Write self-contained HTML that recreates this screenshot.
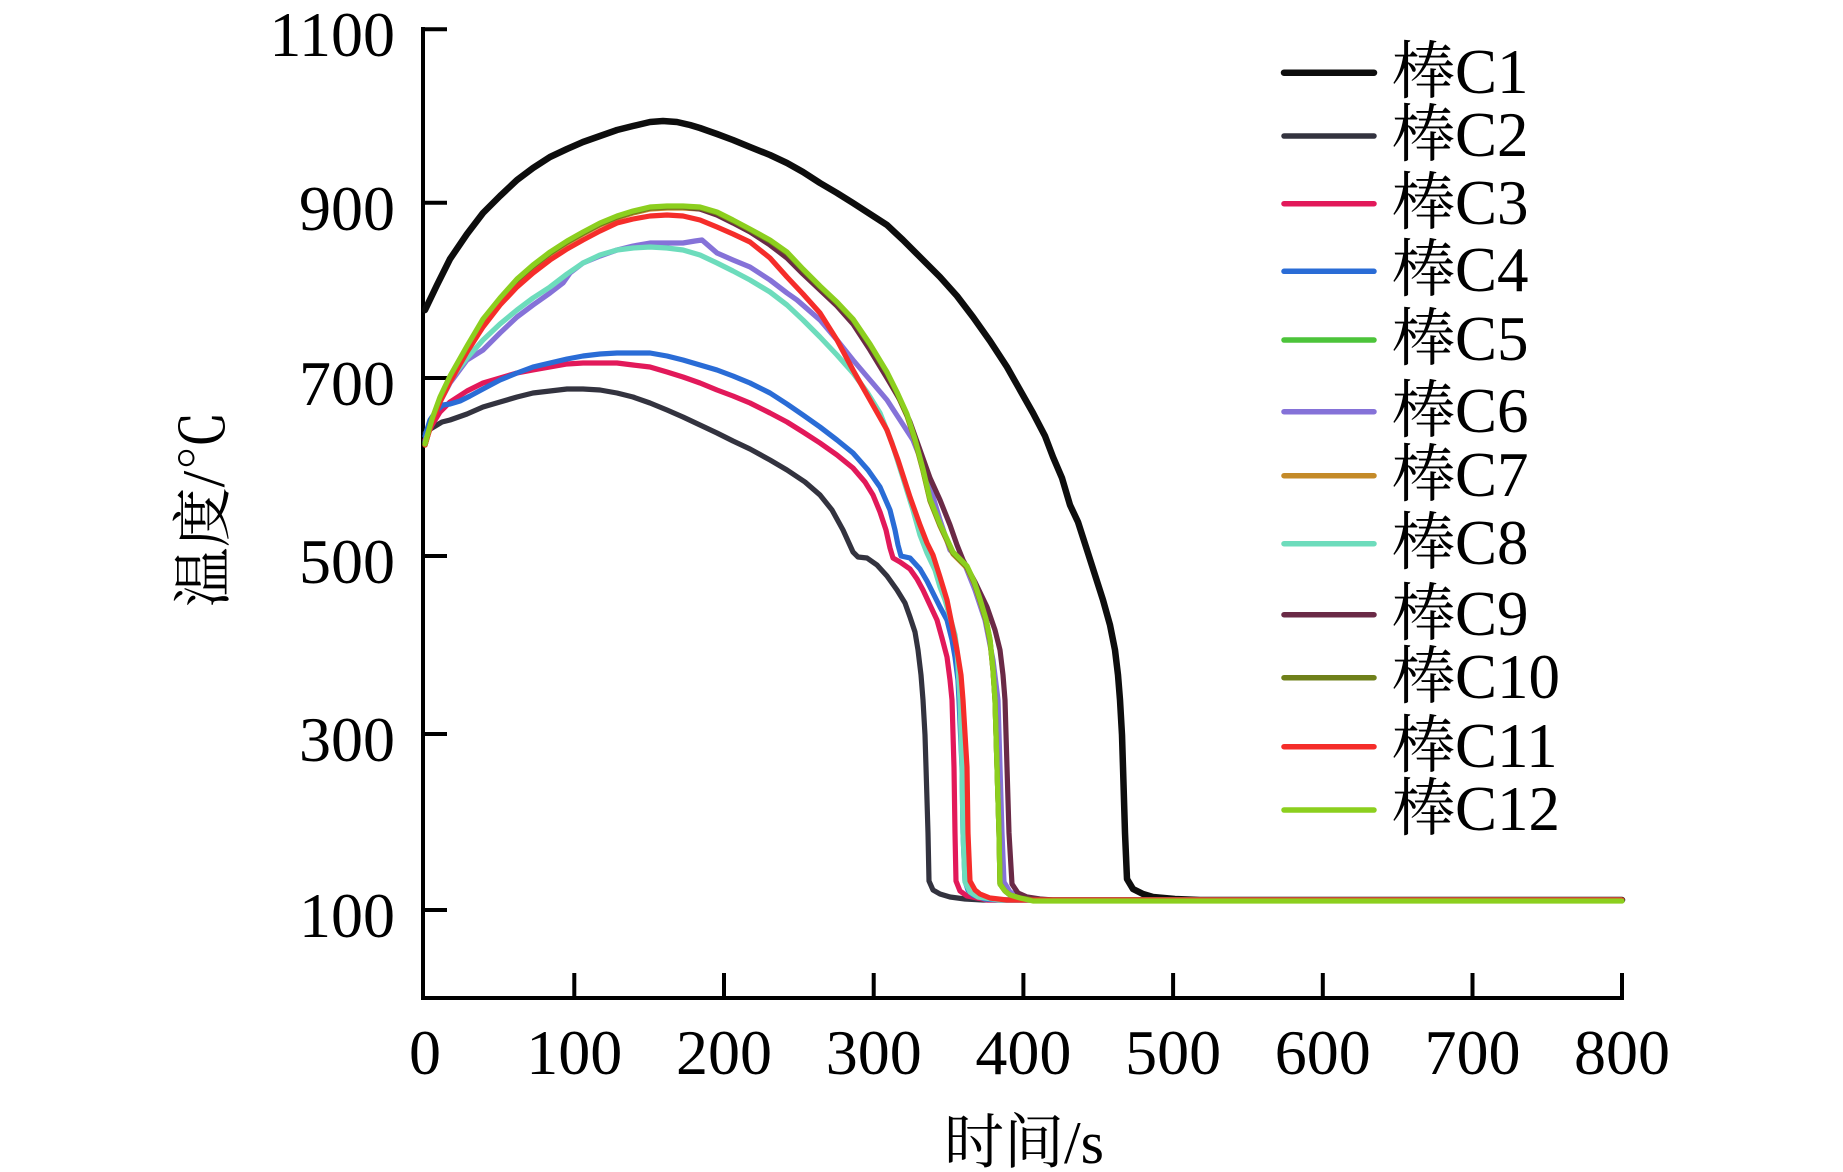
<!DOCTYPE html>
<html>
<head>
<meta charset="utf-8">
<style>
html,body{margin:0;padding:0;background:#fff;}
svg{display:block;}
.t{font-family:"Liberation Serif","Noto Serif CJK SC",serif;fill:#000;}
</style>
</head>
<body>
<svg width="1843" height="1172" viewBox="0 0 1843 1172" xmlns="http://www.w3.org/2000/svg">
<rect width="1843" height="1172" fill="#fff"/>

<!-- axes -->
<g stroke="#000" stroke-width="4" fill="none">
  <line x1="423" y1="27" x2="423" y2="1000"/>
  <line x1="421" y1="998" x2="1624" y2="998"/>
  <line x1="423" y1="29.2" x2="447" y2="29.2"/>
  <line x1="423" y1="202.8" x2="447" y2="202.8"/>
  <line x1="423" y1="378" x2="447" y2="378"/>
  <line x1="423" y1="556" x2="447" y2="556"/>
  <line x1="423" y1="734" x2="447" y2="734"/>
  <line x1="423" y1="910" x2="447" y2="910"/>
  <line x1="574.3" y1="998" x2="574.3" y2="973"/>
  <line x1="724" y1="998" x2="724" y2="973"/>
  <line x1="873.7" y1="998" x2="873.7" y2="973"/>
  <line x1="1023.4" y1="998" x2="1023.4" y2="973"/>
  <line x1="1173.1" y1="998" x2="1173.1" y2="973"/>
  <line x1="1322.8" y1="998" x2="1322.8" y2="973"/>
  <line x1="1472.5" y1="998" x2="1472.5" y2="973"/>
  <line x1="1622" y1="998" x2="1622" y2="973"/>
</g>

<g class="t" font-size="64" text-anchor="end">
  <text x="395" y="56">1100</text>
  <text x="395" y="230">900</text>
  <text x="395" y="405">700</text>
  <text x="395" y="583">500</text>
  <text x="395" y="761">300</text>
  <text x="395" y="937">100</text>
</g>
<g class="t" font-size="64" text-anchor="middle">
  <text x="425" y="1074">0</text>
  <text x="574.3" y="1074">100</text>
  <text x="724" y="1074">200</text>
  <text x="873.7" y="1074">300</text>
  <text x="1023.4" y="1074">400</text>
  <text x="1173.1" y="1074">500</text>
  <text x="1322.8" y="1074">600</text>
  <text x="1472.5" y="1074">700</text>
  <text x="1622" y="1074">800</text>
</g>

<text class="t" font-size="60" text-anchor="middle" x="1024" y="1163">时间/s</text>
<text class="t" font-size="60" text-anchor="middle" dominant-baseline="central" transform="translate(204,509) rotate(-90)">温度/℃</text>

<g fill="none" stroke-linejoin="round" stroke-linecap="round">
<polyline stroke="#0d0d0d" stroke-width="6.5" points="425,310 437,285 450,259 467,234 483,213 500,196 517,180 533,168 550,157 567,149 583,142 600,136 617,130 633,126 650,122 663,121 677,122 690,125 700,128 717,134 733,140 750,147 770,155 787,163 803,172 820,183 837,193 853,203 870,214 887,225 903,240 920,257 940,277 957,296 973,317 990,341 1007,367 1020,390 1033,413 1045,436 1053,457 1062,478 1070,505 1078,522 1087,550 1095,575 1103,600 1110,625 1115,650 1118,675 1120,700 1122,735 1123,767 1125,833 1127,879 1133,889 1143,894 1153,897 1175,899 1200,900 1622,900"/>
<polyline stroke="#33333f" stroke-width="5.2" points="425,433 432,428 442,422 450,420 467,414 483,407 500,402 517,397 533,393 550,391 567,389 583,389 600,390 617,393 633,397 650,403 667,410 683,417 700,425 717,433 733,441 750,449 770,460 787,470 805,482 820,495 832,510 843,530 853,552 858,557 867,558 877,565 887,576 897,590 905,603 910,617 915,632 918,650 921,675 923,700 925,735 926,767 927,800 928,833 929,881 933,890 940,894 950,897 965,899 983,900 1622,900"/>
<polyline stroke="#e2195a" stroke-width="5.2" points="425,440 432,425 440,412 450,402 467,391 483,383 500,378 517,373 533,370 550,367 567,364 583,363 600,363 617,363 633,365 650,367 667,372 683,377 700,383 717,390 733,396 750,403 770,413 787,422 803,432 820,443 837,455 853,468 865,482 873,495 880,512 886,530 890,548 893,558 900,562 910,569 917,579 923,590 930,605 937,620 942,638 947,657 950,680 952,700 954,767 955,833 956,881 960,891 967,896 987,900 1622,900"/>
<polyline stroke="#2a6cd6" stroke-width="5.2" points="425,436 430,420 437,410 443,405 450,404 460,401 470,396 483,389 500,380 517,373 533,367 550,363 567,359 583,356 600,354 617,353 633,353 650,353 667,356 683,360 700,365 717,370 733,376 750,383 770,393 787,404 803,415 820,427 837,440 853,453 868,470 880,487 890,510 895,530 898,545 901,556 910,558 920,569 927,581 933,593 940,607 947,620 952,640 955,657 958,680 959,700 962,767 963,833 965,881 968,890 973,895 985,899 1000,900 1622,900"/>
<polyline stroke="#4cc43a" stroke-width="5.2" points="425,445 432,420 440,398 450,377 467,347 483,320 500,299 517,280 533,266 550,253 567,242 583,233 600,224 617,217 633,212 650,208 667,207 683,207 700,208 717,213 733,221 750,230 770,241 787,253 803,270 820,287 837,303 853,320 870,345 887,373 897,393 907,415 915,440 923,470 930,500 940,525 947,540 953,553 957,557 967,567 974,582 980,600 986,620 990,640 993,670 995,700 997,767 999,833 1000,884 1005,891 1010,895 1020,898 1033,900 1622,900"/>
<polyline stroke="#8572d8" stroke-width="5.2" points="425,442 432,420 440,402 450,383 467,360 483,350 500,333 517,317 533,305 550,293 563,283 570,273 583,263 600,256 617,250 633,246 650,243 667,243 683,243 695,241 702,240 717,253 733,260 750,267 770,280 787,293 797,300 820,320 837,340 853,360 870,380 887,400 900,420 913,440 925,470 940,520 950,550 957,557 965,565 975,590 985,620 993,660 998,700 1000,767 1002,833 1004,882 1010,892 1020,897 1040,900 1622,900"/>
<polyline stroke="#c48a28" stroke-width="5.2" points="425,445 432,421 440,399 450,378 467,348 483,321 500,300 517,281 533,267 550,254 567,243 583,234 600,225 617,218 633,213 650,209 667,208 683,208 700,209 717,214 733,222 750,231 770,242 787,254 803,271 820,288 837,304 853,321 870,346 887,374 897,394 907,416 915,441 923,471 930,501 940,526 947,541 953,554 957,558 967,568 974,583 980,601 986,621 990,641 993,671 995,700 997,767 999,833 1000,884 1005,891 1010,895 1020,898 1033,900 1622,900"/>
<polyline stroke="#6ddcbc" stroke-width="5.2" points="425,443 432,420 440,400 450,380 467,358 483,340 500,324 517,310 533,298 550,287 567,274 583,263 600,255 617,250 633,248 650,247 667,248 683,250 700,255 717,263 733,271 750,280 770,292 787,305 803,320 820,337 837,355 853,373 867,392 880,413 892,443 903,478 913,510 920,535 927,553 935,570 940,587 945,600 950,617 955,635 957,650 960,700 962,767 963,833 965,882 970,892 978,897 1000,900 1622,900"/>
<polyline stroke="#6a2a46" stroke-width="5.2" points="425,445 432,420 440,398 450,377 467,347 483,320 500,299 517,280 533,266 550,253 567,242 583,233 600,224 617,217 633,212 650,208 667,207 683,207 700,209 717,215 733,223 750,232 770,245 787,258 803,274 820,290 837,306 853,324 870,350 887,378 900,400 910,422 920,450 930,478 940,500 950,525 957,545 963,560 975,582 987,607 995,630 1000,650 1003,675 1005,700 1007,767 1009,833 1012,884 1018,893 1027,897 1040,899 1053,900 1622,900"/>
<polyline stroke="#6f801a" stroke-width="5.2" points="425,445 432,420 440,398 450,377 467,347 483,320 500,299 517,280 533,266 550,253 567,242 583,233 600,224 617,217 633,212 650,208 667,207 683,207 700,208 717,213 733,221 750,230 770,241 787,253 803,270 820,287 837,303 853,320 870,345 887,373 897,393 907,415 915,440 923,470 930,500 940,525 947,540 953,553 957,557 967,567 974,582 980,600 986,620 990,640 993,670 995,700 997,767 999,833 1000,884 1005,891 1010,895 1020,898 1033,900 1622,900"/>
<polyline stroke="#f52d2a" stroke-width="5.2" points="425,445 432,422 440,402 450,382 467,352 483,327 500,305 517,287 533,273 550,260 567,249 583,240 600,231 617,223 633,219 650,216 667,215 683,216 700,220 717,227 733,234 750,242 770,258 787,277 803,294 820,313 837,340 853,370 870,400 887,430 898,460 910,497 920,525 927,543 933,555 940,577 947,600 952,625 957,650 961,675 963,700 967,767 968,833 970,881 975,890 980,894 990,898 1007,900 1622,900"/>
<polyline stroke="#8ccf1e" stroke-width="5.2" points="425,444 432,419 440,397 450,376 467,346 483,319 500,298 517,279 533,265 550,252 567,241 583,232 600,223 617,216 633,211 650,207 667,206 683,206 700,207 717,212 733,220 750,229 770,240 787,252 803,269 820,286 837,302 853,319 870,344 887,372 897,392 907,414 915,439 923,469 930,499 940,524 947,539 953,552 957,556 967,566 974,581 980,599 986,619 990,639 993,669 995,700 997,767 999,833 1000,884 1005,891 1010,895 1020,898 1033,901 1622,901"/>
</g>

<g stroke-width="5.5" stroke-linecap="round">
  <line x1="1284" y1="72.7" x2="1374" y2="72.7" stroke="#0d0d0d" stroke-width="6.5"/>
  <line x1="1284" y1="136" x2="1374" y2="136" stroke="#33333f"/>
  <line x1="1284" y1="203.7" x2="1374" y2="203.7" stroke="#e2195a"/>
  <line x1="1284" y1="271.3" x2="1374" y2="271.3" stroke="#2a6cd6"/>
  <line x1="1284" y1="340" x2="1374" y2="340" stroke="#4cc43a"/>
  <line x1="1284" y1="411.7" x2="1374" y2="411.7" stroke="#8572d8"/>
  <line x1="1284" y1="475.7" x2="1374" y2="475.7" stroke="#c48a28"/>
  <line x1="1284" y1="543.7" x2="1374" y2="543.7" stroke="#6ddcbc"/>
  <line x1="1284" y1="614.7" x2="1374" y2="614.7" stroke="#6a2a46"/>
  <line x1="1284" y1="677.7" x2="1374" y2="677.7" stroke="#6f801a"/>
  <line x1="1284" y1="746.7" x2="1374" y2="746.7" stroke="#f52d2a"/>
  <line x1="1284" y1="810" x2="1374" y2="810" stroke="#8ccf1e"/>
</g>
<g class="t" font-size="63">
  <text x="1392" y="93">棒C1</text>
  <text x="1392" y="156">棒C2</text>
  <text x="1392" y="224">棒C3</text>
  <text x="1392" y="291">棒C4</text>
  <text x="1392" y="360">棒C5</text>
  <text x="1392" y="432">棒C6</text>
  <text x="1392" y="496">棒C7</text>
  <text x="1392" y="564">棒C8</text>
  <text x="1392" y="635">棒C9</text>
  <text x="1392" y="698">棒C10</text>
  <text x="1392" y="767">棒C11</text>
  <text x="1392" y="830">棒C12</text>
</g>
</svg>
</body>
</html>
